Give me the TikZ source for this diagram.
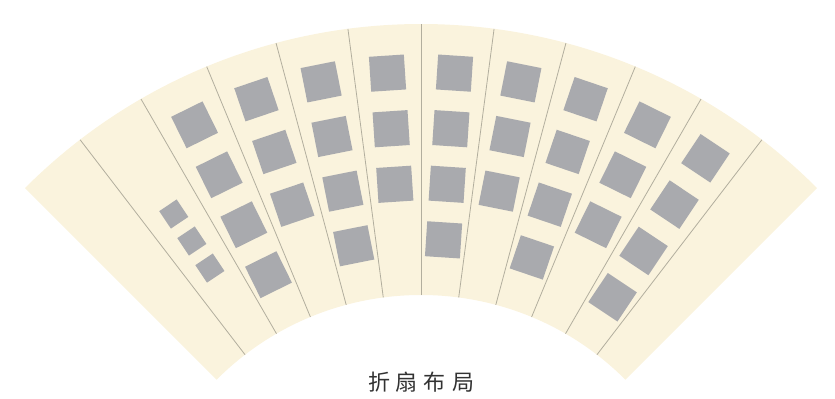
\documentclass[tikz,border=0pt]{standalone}
\usepackage{fontspec}
\newfontfamily\cjk{Noto Sans CJK SC}
\usetikzlibrary{positioning,calc}
\definecolor{fanPaper}{RGB}{250,243,221}
\definecolor{fanFold}{RGB}{178,174,158}
\definecolor{tileGray}{RGB}{169,170,174}
\definecolor{captionInk}{RGB}{50,50,50}

\begin{document}
\begin{tikzpicture}[x=0.5pt, y=0.5pt,
    tile/.style={fill=tileGray, minimum size=17.5pt, inner sep=0pt, outer sep=0pt},
    smalltile/.style={tile, minimum size=10.5pt}]
    \useasboundingbox (0,0) rectangle (835,398);
    \coordinate (C) at (421,-186);
    % Fan paper
    \fill[fanPaper] ([shift={(C)}]45:560) arc[start angle=45, end angle=135, radius=560]
      -- ([shift={(C)}]135:289) arc[start angle=135, end angle=45, radius=289] -- cycle;
    % Folds
    \foreach \k in {1,...,11}
      \draw[fanFold, line width=0.4pt] ([shift={(C)}]{45+7.5*\k}:289) -- ([shift={(C)}]{45+7.5*\k}:560);
    % Large tiles, panels 3 to 11
    \foreach \k/\n in {3/4,4/3,5/4,6/3,7/4,8/3,9/4,10/3,11/4} {
      \pgfmathsetmacro\a{135-7.5*(\k-0.5)}
      \foreach \j in {1,...,\n}
        \node[tile, rotate=\a-90] (tile-\k-\j) at ([shift={(C)}]\a:{512-55.7*(\j-1)}) {};
    }
    % Small tiles, panel 2
    \foreach \j in {1,2,3}
      \node[smalltile, rotate=33.75] (small-\j) at ([shift={(C)}]123.75:{445-32.5*(\j-1)}) {};
    % Caption
    \node[font=\cjk\fontsize{11}{13}\selectfont, text=captionInk] (caption) at (421,16)
      {折\hspace{3pt}扇\hspace{3pt}布\hspace{3pt}局};
\end{tikzpicture}
\end{document}
